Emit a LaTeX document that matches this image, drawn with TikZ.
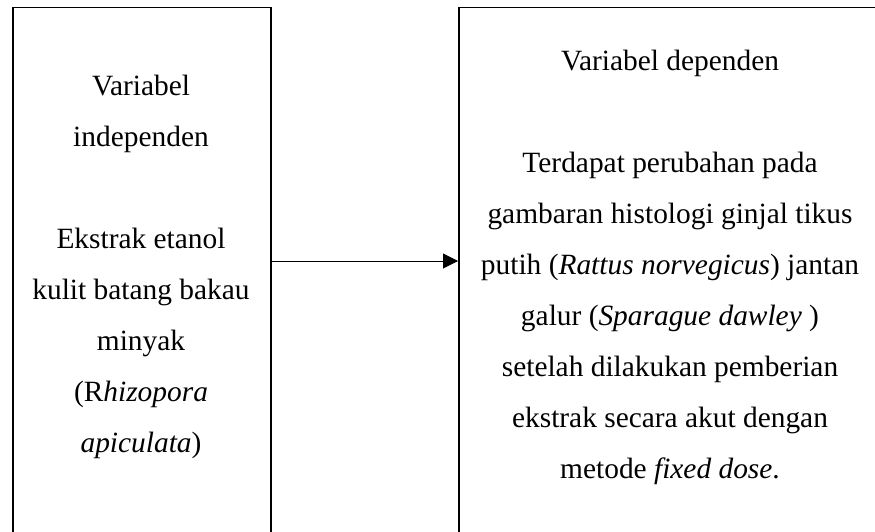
\documentclass[tikz,border=0pt]{standalone}
\usepackage{fontspec}
\setmainfont{Liberation Serif}
\usetikzlibrary{arrows.meta}
\begin{document}
\begin{tikzpicture}[x=1pt,y=-1pt,
  varbox/.style={draw=black,line width=1.5pt,minimum width=#1,minimum height=540pt,inner sep=0pt,anchor=north west},
  vartext/.style={align=center,font=\fontsize{29.4}{51}\selectfont,inner sep=0pt},
  link/.style={line width=1pt,-{Triangle[length=15pt,width=15pt]}}]
  \useasboundingbox (0,0) rectangle (875,532);
  \clip (0,0) rectangle (875,532);
  % the two variable boxes (they run past the lower and right borders)
  \node[varbox=258pt] (indep) at (12,7) {};
  \node[varbox=424pt] (dep) at (458,7) {};
  % box contents
  \node[vartext] (indeptext) at (141,267) {Variabel\\independen\\[51pt]Ekstrak etanol\\kulit batang bakau\\minyak\\(R\textit{hizopora}\\\textit{apiculata})};
  \node[vartext] (deptext) at (670,267) {Variabel dependen\\[51pt]Terdapat perubahan pada\\gambaran histologi ginjal tikus\\putih (\textit{Rattus norvegicus}) jantan\\galur (\textit{Sparague dawley} )\\setelah dilakukan pemberian\\ekstrak secara akut dengan\\metode \textit{fixed dose}.};
  % connector
  \coordinate (arrowrow) at (0,261);
  \draw[link] (indep.east |- arrowrow) -- (dep.west |- arrowrow);
\end{tikzpicture}
\end{document}
